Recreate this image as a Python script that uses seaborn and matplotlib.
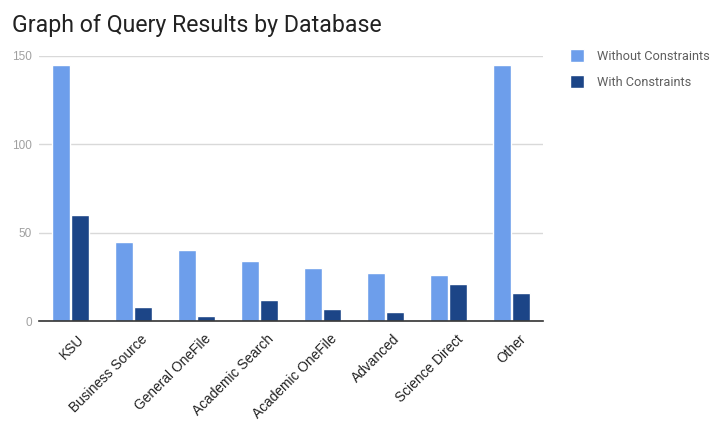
import pandas as pd
import seaborn as sns
import matplotlib.pyplot as plt
from matplotlib.patches import Patch
from matplotlib.transforms import ScaledTranslation

# Values
databases = ['KSU', 'Business Source', 'General OneFile', 'Academic Search',
             'Academic OneFile', 'Advanced', 'Science Direct', 'Other']
without_constraints = [145, 45, 40, 34, 30, 27, 26, 145]
with_constraints = [60, 8, 3, 12, 7, 5, 21, 16]
series_names = ['Without Constraints', 'With Constraints']
y_ticks = [0, 50, 100, 150]

sns.set_style('white')
plt.rcParams['font.family'] = ['Roboto', 'DejaVu Sans']

df = pd.DataFrame({
    'Database': databases * 2,
    'Series': [series_names[0]] * len(databases) + [series_names[1]] * len(databases),
    'Results': without_constraints + with_constraints,
})

palette = {series_names[0]: '#6d9eeb', series_names[1]: '#1c4587'}

fig = plt.figure(figsize=(7.13, 4.21), dpi=100)
ax = fig.add_axes([0.0547, 0.2375, 0.707, 0.6295])

sns.barplot(data=df, x='Database', y='Results', hue='Series', palette=palette,
            width=0.6, gap=0.03, saturation=1, ax=ax, legend=False)

ax.set_ylim(0, 150)
ax.set_yticks(y_ticks)
ax.set_yticklabels([str(t) for t in y_ticks], color='#a0a0a0', fontsize=8.5,
                   family=['Liberation Sans', 'DejaVu Sans'])
ax.grid(axis='y', color='#d9d9d9', linewidth=1)
ax.set_axisbelow(True)
ax.set_xlabel('')
ax.set_ylabel('')
ax.tick_params(axis='y', length=0, pad=5)
ax.tick_params(axis='x', length=0, pad=8)
ax.set_xticks(range(len(databases)))
ax.set_xticklabels(databases, rotation=45, ha='right', rotation_mode='anchor',
                   fontsize=9.9, color='#222222', family=['Liberation Sans', 'DejaVu Sans'])
# google-style labels sit a bit right of the tick
shift = ScaledTranslation(7 / 100, 0, fig.dpi_scale_trans)
for lbl in ax.get_xticklabels():
    lbl.set_transform(lbl.get_transform() + shift)
for s in ['top', 'right', 'left']:
    ax.spines[s].set_visible(False)
ax.spines['bottom'].set_color('#333333')
ax.spines['bottom'].set_linewidth(1.2)
ax.set_xlim(-0.5, len(databases) - 0.5)

# legend
handles = [Patch(facecolor=palette[n], label=n) for n in series_names]
fig.legend(handles=handles, loc='upper left', bbox_to_anchor=(0.783, 0.91),
           frameon=False, fontsize=9.2, labelcolor='#5f5f5f', handlelength=1.15,
           handleheight=1.15, labelspacing=0.95, handletextpad=0.95)

fig.text(0.017, 0.925, 'Graph of Query Results by Database', fontsize=16.7,
         color='#222222', va='baseline', ha='left')

fig.savefig('out.png', dpi=100)
